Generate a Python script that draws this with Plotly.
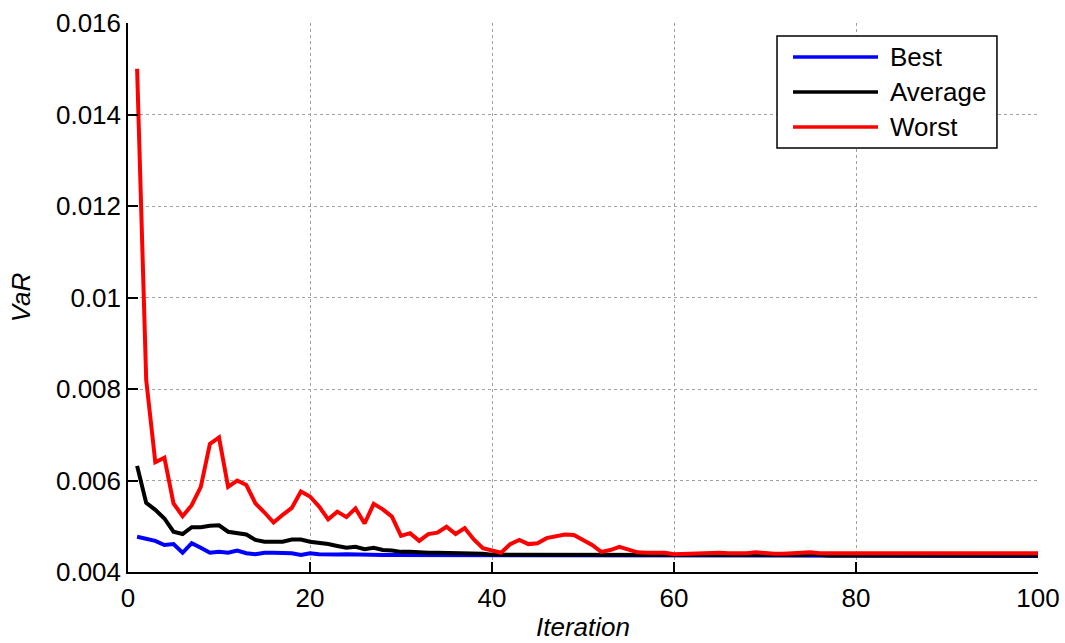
import plotly.graph_objects as go

# Iteration index and convergence series (VaR per iteration)
iterations = list(range(1, 101))

best = [
    0.00477, 0.00472, 0.00468, 0.00459, 0.00461, 0.00442, 0.00463, 0.00453, 0.00442, 0.00444,
    0.00442, 0.00447, 0.00441, 0.00439, 0.00442, 0.00442, 0.00441, 0.00441, 0.00437, 0.00441,
    0.00439, 0.00438, 0.00438, 0.00439, 0.00438, 0.00438, 0.00437, 0.00437, 0.00437, 0.00437,
    0.00437, 0.00437, 0.00436, 0.00436, 0.00436, 0.00436, 0.00436, 0.00436, 0.00436, 0.00436,
    0.00435, 0.00435, 0.00435, 0.00435, 0.00435, 0.00435, 0.00435, 0.00435, 0.00435, 0.00435,
    0.00435, 0.00435, 0.00435, 0.00435, 0.00435, 0.00435, 0.00435, 0.00435, 0.00435, 0.00435,
    0.00435, 0.00435, 0.00435, 0.00435, 0.00435, 0.00435, 0.00435, 0.00435, 0.00435, 0.00435,
    0.00435, 0.00435, 0.00435, 0.00435, 0.00435, 0.00435, 0.00435, 0.00435, 0.00435, 0.00435,
    0.00435, 0.00435, 0.00435, 0.00435, 0.00435, 0.00435, 0.00435, 0.00435, 0.00435, 0.00435,
    0.00435, 0.00435, 0.00435, 0.00435, 0.00435, 0.00435, 0.00435, 0.00435, 0.00435, 0.00435,
]

average = [
    0.00632, 0.00551, 0.00536, 0.00517, 0.00488, 0.00483, 0.00498, 0.00498, 0.00501, 0.00502,
    0.00488, 0.00485, 0.00482, 0.00470, 0.00466, 0.00466, 0.00466, 0.00471, 0.00471, 0.00466,
    0.00464, 0.00461, 0.00457, 0.00453, 0.00455, 0.00450, 0.00453, 0.00448, 0.00447, 0.00444,
    0.00444, 0.00442, 0.00442, 0.00442, 0.00442, 0.00442, 0.00441, 0.00441, 0.00440, 0.00438,
    0.00438, 0.00438, 0.00438, 0.00437, 0.00437, 0.00437, 0.00437, 0.00437, 0.00437, 0.00437,
    0.00436, 0.00436, 0.00436, 0.00436, 0.00436, 0.00436, 0.00436, 0.00436, 0.00436, 0.00436,
    0.00436, 0.00436, 0.00436, 0.00436, 0.00436, 0.00436, 0.00436, 0.00436, 0.00436, 0.00436,
    0.00436, 0.00436, 0.00436, 0.00437, 0.00439, 0.00437, 0.00436, 0.00436, 0.00436, 0.00436,
    0.00436, 0.00436, 0.00436, 0.00436, 0.00436, 0.00436, 0.00436, 0.00436, 0.00436, 0.00436,
    0.00436, 0.00436, 0.00436, 0.00436, 0.00436, 0.00436, 0.00436, 0.00436, 0.00436, 0.00436,
]

worst = [
    0.01500, 0.00820, 0.00640, 0.00650, 0.00550, 0.00522, 0.00546, 0.00586, 0.00680, 0.00694,
    0.00586, 0.00600, 0.00590, 0.00550, 0.00530, 0.00508, 0.00525, 0.00540, 0.00576, 0.00565,
    0.00543, 0.00515, 0.00532, 0.00520, 0.00539, 0.00506, 0.00549, 0.00537, 0.00521, 0.00479,
    0.00485, 0.00468, 0.00483, 0.00486, 0.00499, 0.00483, 0.00496, 0.00471, 0.00452, 0.00447,
    0.00442, 0.00461, 0.00470, 0.00461, 0.00463, 0.00474, 0.00479, 0.00482, 0.00481, 0.00471,
    0.00459, 0.00444, 0.00448, 0.00455, 0.00448, 0.00443, 0.00442, 0.00442, 0.00442, 0.00439,
    0.00440, 0.00441, 0.00441, 0.00442, 0.00442, 0.00441, 0.00440, 0.00441, 0.00443, 0.00441,
    0.00440, 0.00440, 0.00441, 0.00441, 0.00443, 0.00441, 0.00441, 0.00442, 0.00442, 0.00442,
    0.00442, 0.00441, 0.00441, 0.00440, 0.00442, 0.00441, 0.00441, 0.00441, 0.00441, 0.00442,
    0.00442, 0.00441, 0.00440, 0.00442, 0.00441, 0.00441, 0.00442, 0.00442, 0.00441, 0.00441,
]

series_names = ["Best", "Average", "Worst"]
series_colors = ["#0000ff", "#000000", "#ff0000"]

x_ticks = [0, 20, 40, 60, 80, 100]
y_ticks = [0.004, 0.006, 0.008, 0.010, 0.012, 0.014, 0.016]
y_tick_labels = ["0.004", "0.006", "0.008", "0.01", "0.012", "0.014", "0.016"]

FONT = "Liberation Sans, Arial, sans-serif"
FONT_SIZE = 26

fig = go.Figure()
for name, vals, color in zip(series_names, [best, average, worst], series_colors):
    fig.add_trace(go.Scatter(
        x=iterations, y=vals, mode="lines", name=name,
        line=dict(color=color, width=4), showlegend=False,
    ))

axis_common = dict(
    showline=True, linecolor="#000000", linewidth=1.5,
    ticks="inside", ticklen=10, tickwidth=1.5, tickcolor="#000000",
    showgrid=True, gridcolor="#a0a0a0", gridwidth=1, griddash="dot",
    zeroline=False, mirror=False, automargin=False,
    ticklabeloverflow="allow",
    tickfont=dict(family=FONT, size=FONT_SIZE, color="#000000"),
)

fig.update_xaxes(
    range=[0, 100], tickvals=x_ticks, ticktext=[str(v) for v in x_ticks],
    title=dict(text="<i>Iteration</i>", font=dict(family=FONT, size=FONT_SIZE, color="#000000"), standoff=6),
    ticklabelstandoff=2,
    **axis_common,
)
fig.update_yaxes(
    range=[0.004, 0.016], tickvals=y_ticks, ticktext=y_tick_labels,
    title=dict(text="<i>VaR</i>", font=dict(family=FONT, size=FONT_SIZE, color="#000000"), standoff=18),
    **axis_common,
)

# Hand-built legend box in the upper right corner
legend_box = dict(x0=0.7132, x1=0.9549, y0=0.7723, y1=0.9763)
line_x = (0.7308, 0.8242)
row_y = [0.9381, 0.8743, 0.8106]
text_x = 0.8352

shapes = [dict(type="rect", xref="paper", yref="paper", **legend_box,
               line=dict(color="#000000", width=1.5), fillcolor="#ffffff", layer="above")]
annotations = []
for name, color, ry in zip(series_names, series_colors, row_y):
    shapes.append(dict(type="line", xref="paper", yref="paper",
                       x0=line_x[0], x1=line_x[1], y0=ry, y1=ry,
                       line=dict(color=color, width=3.5), layer="above"))
    annotations.append(dict(xref="paper", yref="paper", x=text_x, y=ry,
                            xanchor="left", yanchor="middle", showarrow=False,
                            text=name, font=dict(family=FONT, size=FONT_SIZE, color="#000000")))

fig.update_layout(
    width=1065, height=643,
    margin=dict(l=128, r=27, t=23, b=71),
    paper_bgcolor="#ffffff", plot_bgcolor="#ffffff",
    shapes=shapes, annotations=annotations,
    showlegend=False,
)

fig.write_html("out.html")
